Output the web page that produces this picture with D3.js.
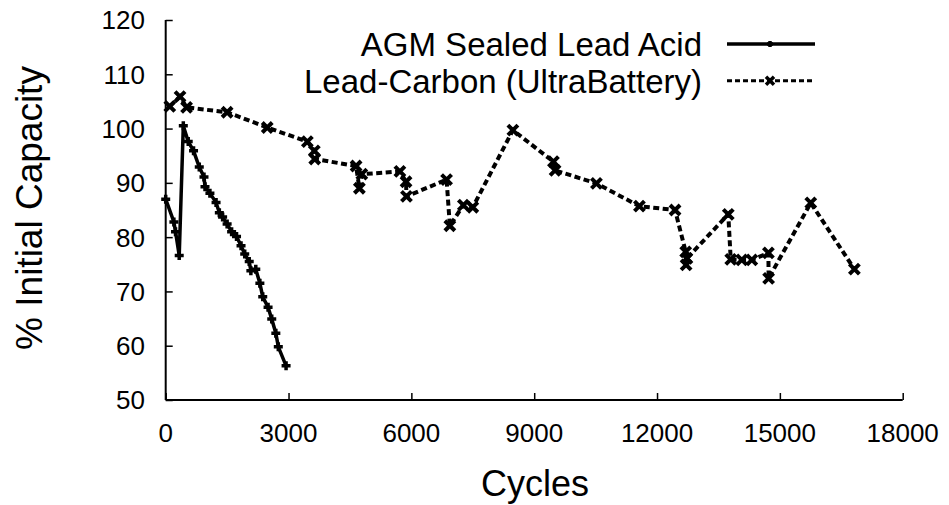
<!DOCTYPE html>
<html>
<head>
<meta charset="utf-8">
<script src="https://cdn.jsdelivr.net/npm/d3@7"></script>
<style>
  body { margin: 0; background: #fff; }
  text { font-family: "Liberation Sans", Arial, sans-serif; fill: #000; }
</style>
</head>
<body>
<svg width="949" height="505"></svg>
<script>
// AGM sealed lead acid (solid line)
var agmCycles = [0, 200, 240, 330, 430, 550, 680, 820, 935, 960, 1080, 1230, 1310, 1390, 1500, 1610, 1730, 1840, 1930, 2040, 2080, 2200, 2300, 2370, 2500, 2590, 2690, 2750, 2940];
var agmCap = [87.0, 82.8, 81.0, 76.6, 100.5, 97.6, 95.9, 92.9, 91.1, 89.3, 88.1, 86.4, 84.5, 83.7, 82.4, 81.0, 80.1, 78.4, 76.9, 75.5, 73.8, 74.1, 71.5, 69.0, 67.1, 64.9, 62.3, 59.8, 56.3];

// Lead-Carbon UltraBattery (dashed line)
var lcCycles = [100, 350, 510, 1500, 2480, 3460, 3630, 3640, 4650, 4730, 4790, 5720, 5870, 5880, 6860, 6940, 7270, 7500, 8480, 9470, 9510, 10520, 11570, 12440, 12700, 12710, 12730, 13740, 13800, 14070, 14315, 14720, 14725, 15755, 16820];
var lcCap = [104.1, 105.9, 103.9, 103.0, 100.2, 97.6, 95.9, 94.4, 93.1, 89.0, 91.6, 92.1, 90.2, 87.5, 90.6, 82.1, 85.9, 85.5, 99.7, 93.9, 92.3, 89.9, 85.7, 85.0, 77.3, 74.9, 76.1, 84.2, 75.9, 75.8, 75.8, 77.1, 72.4, 86.3, 74.1];

var xTicks = [0, 3000, 6000, 9000, 12000, 15000, 18000];
var yTicks = [50, 60, 70, 80, 90, 100, 110, 120];

var seriesNames = ["AGM Sealed Lead Acid", "Lead-Carbon (UltraBattery)"];

var svg = d3.select("svg");

var x = d3.scaleLinear().domain([0, 18000]).range([165.7, 902.7]);
var y = d3.scaleLinear().domain([50, 120]).range([400, 20]);

// axes: ticks point inward
svg.append("g")
    .attr("transform", "translate(0,400)")
    .call(d3.axisTop(x).tickValues(xTicks).tickSize(7).tickFormat(""));
svg.append("g")
    .attr("transform", "translate(165.7,0)")
    .call(d3.axisRight(y).tickValues(yTicks).tickSize(7).tickFormat(""));
svg.selectAll(".domain").remove();
svg.selectAll(".tick line").attr("stroke", "#000").attr("stroke-width", 1.5);

svg.append("line").attr("x1", 165.7).attr("x2", 902.7).attr("y1", 400).attr("y2", 400)
    .attr("stroke", "#000").attr("stroke-width", 2);
svg.append("line").attr("x1", 165.7).attr("x2", 165.7).attr("y1", 20).attr("y2", 400)
    .attr("stroke", "#000").attr("stroke-width", 2);

svg.append("g").selectAll("text")
    .data(xTicks).enter().append("text")
    .attr("x", function(d) { return x(d); })
    .attr("y", 442)
    .attr("text-anchor", "middle")
    .style("font-size", "26px")
    .text(function(d) { return d; });

svg.append("g").selectAll("text")
    .data(yTicks).enter().append("text")
    .attr("x", 145)
    .attr("y", function(d) { return y(d); })
    .attr("dy", "0.36em")
    .attr("text-anchor", "end")
    .style("font-size", "26px")
    .text(function(d) { return d; });

svg.append("text")
    .attr("x", 535).attr("y", 496)
    .attr("text-anchor", "middle")
    .style("font-size", "36px")
    .text("Cycles");

svg.append("text")
    .attr("transform", "translate(42,208) rotate(-90)")
    .attr("text-anchor", "middle")
    .style("font-size", "37px")
    .text("% Initial Capacity");

var line = d3.line()
    .x(function(d) { return x(d[0]); })
    .y(function(d) { return y(d[1]); });

var agm = d3.zip(agmCycles, agmCap);
var lc = d3.zip(lcCycles, lcCap);

var plusPath = "M-4.5,0H4.5M0,-4.5V4.5";
var crossPath = "M-5,-5L5,5M-5,5L5,-5";

svg.append("path")
    .datum(lc)
    .attr("d", line)
    .attr("fill", "none")
    .attr("stroke", "#000")
    .attr("stroke-width", 4)
    .attr("stroke-dasharray", "6,3.5");

svg.append("g").selectAll("path")
    .data(lc).enter().append("path")
    .attr("transform", function(d) { return "translate(" + x(d[0]) + "," + y(d[1]) + ")"; })
    .attr("d", crossPath)
    .attr("stroke", "#000")
    .attr("stroke-width", 4);

svg.append("path")
    .datum(agm)
    .attr("d", line)
    .attr("fill", "none")
    .attr("stroke", "#000")
    .attr("stroke-width", 3.5);

svg.append("g").selectAll("path")
    .data(agm).enter().append("path")
    .attr("transform", function(d) { return "translate(" + x(d[0]) + "," + y(d[1]) + ")"; })
    .attr("d", plusPath)
    .attr("stroke", "#000")
    .attr("stroke-width", 3.5);

// legend
var legend = svg.append("g");
var rows = [44, 80.7];
seriesNames.forEach(function(name, i) {
  legend.append("text")
      .attr("x", 702).attr("y", rows[i])
      .attr("dy", "0.36em")
      .attr("text-anchor", "end")
      .style("font-size", "33px")
      .text(name);
  legend.append("line")
      .attr("x1", 727).attr("x2", 815)
      .attr("y1", rows[i]).attr("y2", rows[i])
      .attr("stroke", "#000")
      .attr("stroke-width", i === 0 ? 3.5 : 3)
      .attr("stroke-dasharray", i === 0 ? null : "5,3");
  legend.append("path")
      .attr("transform", "translate(770," + rows[i] + ")")
      .attr("d", i === 0 ? "M-3,0H3M0,-3V3" : "M-4,-4L4,4M-4,4L4,-4")
      .attr("stroke", "#000")
      .attr("stroke-width", 3.5);
});
</script>
</body>
</html>
